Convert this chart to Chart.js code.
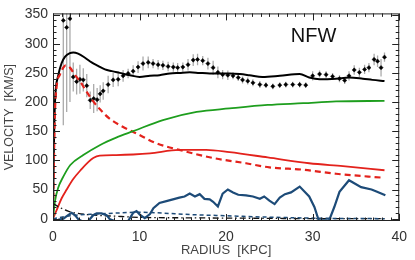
<!DOCTYPE html>
<html><head><meta charset="utf-8">
<script src="https://cdn.jsdelivr.net/npm/chart.js@4.4.1/dist/chart.umd.min.js"></script>
<style>html,body{margin:0;padding:0;background:#fff}#c{display:block}</style>
</head><body>
<canvas id="c" width="415" height="260"></canvas>
<script>
// ---- data ----
const xTicks = [0,10,20,30,40];
const yTicks = [0,50,100,150,200,250,300,350];

const obsR = [1.19,1.58,1.96,2.34,2.73,3.11,3.5,3.9,4.3,4.7,5.1,5.45,5.8,6.37,6.95,7.53,8.1,8.68,9.26,9.83,10.4,11.0,11.56,12.14,12.7,13.3,13.9,14.4,15.0,15.6,16.2,16.7,17.3,17.9,18.5,19.05,19.6,20.2,20.8,21.4,21.9,22.5,23.1,23.9,24.6,25.4,26.2,26.9,27.7,28.5,29.2,30.0,30.8,31.55,32.3,33.1,33.7,34.2,34.8,35.4,36.0,36.5,37.1,37.5,37.9,38.3];
const obsV = [340,328,343,243,235,239,238,228,203,206,204,214,219,230,238,239,245,249,253,260,266,268,266,264,263,261,260,259,260,264,272,273,271,266,259,251,247,246,245,242,238,236,233,230,229,227,229,230,230,230,229,245,248,247,244,240,237,245,255,251,256,259,273,270,259,277];
const obsErr = [180,145,143,25,22,25,20,20,15,25,20,15,15,15,12,12,10,8,10,10,12,10,8,8,8,8,8,8,8,10,10,10,8,10,12,10,8,8,6,6,6,6,6,6,5,5,5,5,5,5,5,8,6,6,6,6,6,8,8,8,8,8,10,10,15,8];

const totR = [0,0.1,0.23,0.6,1.0,1.4,1.96,2.34,2.9,3.7,4.46,5.2,6.0,6.8,7.7,8.9,10,11.2,12.3,13.5,14.6,15.8,16.9,18.1,19.3,20.4,21.6,22.7,24.2,26.2,28.5,29.6,30.8,32.7,34.2,35.8,36.9,38.3];
const totV = [0,120,200,245,267,278,284,285,283,276,268,262,256,253,250,246,243,245,246,249,250,251,250,249,249,249,248,246,243,245,248,242,239,240,242,240,238,236];

const nfwR = [0,0.2,0.43,0.8,1.19,1.46,1.96,2.5,3.1,3.7,4.46,5.4,6.5,8,9.65,12,14.6,18.5,22.3,25,28.9,32.7,38.3];
const nfwV = [0,170,228,247,259,263,259,247,236,222,205,188,172,158,146,129,118,104,95,88,84,77,70];

const stR = [0,0.43,1.0,1.58,2.34,3.3,4.07,4.65,5.4,7.3,9.26,11.2,14.6,17.7,20.4,24.8,29.6,33.5,38.3];
const stV = [0,15,35,50,68,85,97,104,108,109,110,112,118,118,114,105,95,90,83];

const grR = [0,0.23,0.6,1.19,2.0,3.5,5.4,7.3,9.26,12.7,16.6,20.4,24.8,28.9,32.7,38.3];
const grV = [0,30,53,72,92,109,126,139,150,169,183,189,195,198,201,202];

const gasR = [0,0.6,1.2,1.75,2.15,2.53,2.92,3.3,4.07,4.65,5.04,5.6,6.2,6.57,7.15,8.68,9.26,9.65,10.03,10.6,11.2,11.6,12.3,13.1,13.86,14.6,15.2,15.8,16.4,16.95,17.5,18.1,18.5,19.05,19.6,20.2,20.8,21.4,22.3,23.1,23.9,24.4,25.0,25.6,26.2,26.8,27.5,28.5,29.6,30.2,30.7,31.9,32.5,33.1,34.2,35.6,36.8,37.3,38.4];
const gasV = [-3,-2,0,6,10,6,-1,-4,-4,6,9,9,6,-1,-4,-4,10,13,7,1,8,18,27,30,33,36,38,43,38,42,34,33,29,21,43,50,45,41,40,38,34,38,31,25,36,42,45,55,38,20,-3,-3,20,46,66,54,50,47,40];

const ddR = [0,0.8,1.75,2.9,4.8,6.8,10.6,15,20,25,30,38.3];
const ddV = [26,19,13,9,6,4.5,2,1.5,1,0.5,0,0];

const bdR = [0,2,5,8,9.5,12,16,20,24,28,32,38.3];
const bdV = [0,5,8,10,11,10,7,5,3,1.5,0.5,0];

const label = 'NFW';

const pts = (r, v) => r.map((x, i) => ({x, y: v[i]}));
const FONT = "'Liberation Sans', Arial, Helvetica, sans-serif";

const errorBars = {
  id: 'errorBars',
  beforeDatasetsDraw(chart) {
    const {ctx, chartArea: a, scales: {x, y}} = chart;
    ctx.save();
    ctx.beginPath(); ctx.rect(a.left, a.top, a.right - a.left, a.bottom - a.top); ctx.clip();
    ctx.strokeStyle = '#aaaaaa'; ctx.lineWidth = 1.3;
    obsR.forEach((r, i) => {
      const px = x.getPixelForValue(r);
      ctx.beginPath();
      ctx.moveTo(px, y.getPixelForValue(obsV[i] - obsErr[i]));
      ctx.lineTo(px, y.getPixelForValue(obsV[i] + obsErr[i]));
      ctx.stroke();
    });
    ctx.restore();
  }
};

const frame = {
  id: 'frame',
  afterDatasetsDraw(chart) {
    const {ctx, chartArea: a, scales: {x, y}} = chart;
    ctx.save();
    ctx.strokeStyle = '#222'; ctx.lineWidth = 1;
    ctx.strokeRect(a.left + 0.5, a.top + 0.5, a.right - a.left - 1, a.bottom - a.top - 1);
    const seg = (x1, y1, x2, y2) => { ctx.beginPath(); ctx.moveTo(x1, y1); ctx.lineTo(x2, y2); ctx.stroke(); };
    for (let i = 0; i <= 40; i++) {
      const px = Math.round(x.getPixelForValue(i)) + 0.5;
      const len = xTicks.includes(i) ? 7 : 3.5;
      seg(px, a.bottom, px, a.bottom - len);
      seg(px, a.top, px, a.top + len);
    }
    for (let i = 0; i <= 35; i++) {
      const v = i * 10;
      const py = Math.round(y.getPixelForValue(v)) + 0.5;
      const len = yTicks.includes(v) ? 7 : 3.5;
      seg(a.left, py, a.left + len, py);
      seg(a.right, py, a.right - len, py);
    }
    ctx.fillStyle = '#111';
    ctx.font = '20px ' + FONT;
    ctx.textAlign = 'center'; ctx.textBaseline = 'middle';
    ctx.fillText(label, x.getPixelForValue(30.1), y.getPixelForValue(313));
    ctx.restore();
  }
};

const line = (data, color, extra) => Object.assign({
  type: 'line', data, borderColor: color, borderWidth: 2, pointRadius: 0,
  fill: false, cubicInterpolationMode: 'monotone'
}, extra || {});

new Chart(document.getElementById('c'), {
  type: 'scatter',
  data: {
    datasets: [
      line(pts(gasR, gasV), '#1d4b78', {cubicInterpolationMode: 'default', tension: 0, borderWidth: 2.2}),
      line(pts(bdR, bdV), '#1d4b78', {borderDash: [4, 3], borderWidth: 1.5}),
      line(pts(ddR, ddV), '#111', {borderDash: [6, 3, 1.5, 3], borderWidth: 1.3}),
      line(pts(grR, grV), '#1e9e1e', {borderWidth: 1.8}),
      line(pts(stR, stV), '#e3221c', {borderWidth: 1.8}),
      line(pts(nfwR, nfwV), '#e3221c', {borderDash: [6, 4], borderWidth: 2.2}),
      line(pts(totR, totV), '#000', {borderWidth: 2}),
      {type: 'scatter', data: pts(obsR, obsV), pointStyle: 'rectRot', pointRadius: 2.1,
       backgroundColor: '#000', borderColor: '#000', borderWidth: 0.5}
    ]
  },
  options: {
    responsive: false, animation: false, devicePixelRatio: 1,
    layout: {padding: {left: 0, right: 15, top: 10, bottom: 0}},
    plugins: {legend: {display: false}, tooltip: {enabled: false}},
    scales: {
      x: {
        type: 'linear', min: 0, max: 40,
        afterBuildTicks: s => { s.ticks = xTicks.map(v => ({value: v})); },
        afterFit: s => { s.height = 39; },
        grid: {display: false, drawTicks: false}, border: {display: false},
        ticks: {padding: 8, color: '#333', font: {size: 14, family: FONT}, maxRotation: 0, autoSkip: false},
        title: {display: true, text: 'RADIUS  [KPC]', color: '#444', font: {size: 13, family: FONT}, padding: {top: 0, bottom: 2}}
      },
      y: {
        type: 'linear', min: -4, max: 352,
        afterBuildTicks: s => { s.ticks = yTicks.map(v => ({value: v})); },
        afterFit: s => { s.width = 53; },
        grid: {display: false, drawTicks: false}, border: {display: false},
        ticks: {padding: 5, color: '#333', font: {size: 14, family: FONT}, autoSkip: false},
        title: {display: true, text: 'VELOCITY  [KM/S]', color: '#444', font: {size: 12.5, family: FONT}, padding: {top: 2, bottom: 0}}
      }
    }
  },
  plugins: [errorBars, frame]
});
</script>
</body></html>
